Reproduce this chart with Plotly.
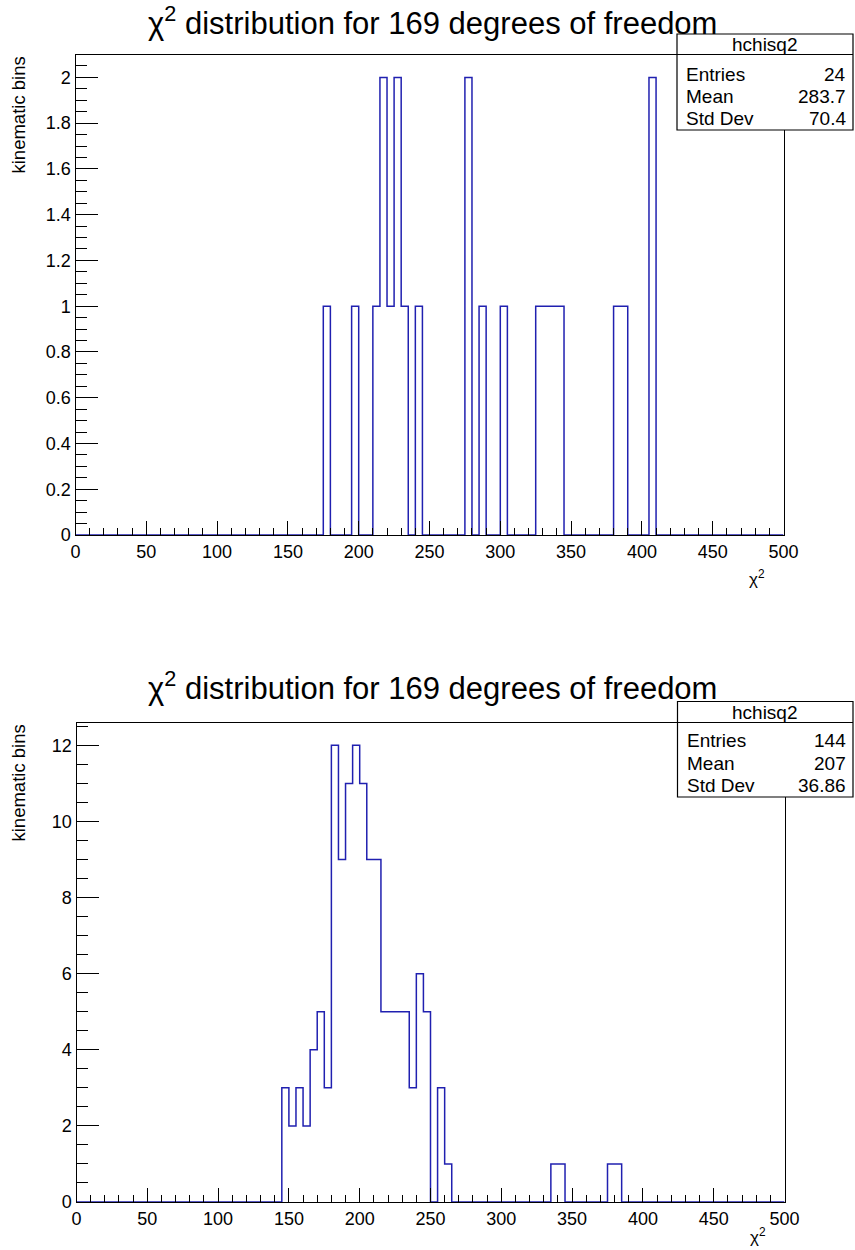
import plotly.graph_objects as go

# Histogram binning: 100 bins of width 5 over [0, 500]
BIN_WIDTH = 5
X_MIN, X_MAX = 0, 500

# Upper histogram: non-empty bins (low edge) and their contents
top_bin_lo = [175, 195, 210, 215, 220, 225, 230, 240, 275, 285, 300,
              325, 330, 335, 340, 380, 385, 405]
top_counts = [1, 1, 1, 2, 1, 2, 1, 1, 2, 1, 1,
              1, 1, 1, 1, 1, 1, 2]
top_stats = [("Entries", "24"), ("Mean", "283.7"), ("Std Dev", "70.4")]

# Lower histogram: non-empty bins (low edge) and their contents
bot_bin_lo = [145, 150, 155, 160, 165, 170, 175, 180, 185, 190, 195,
              200, 205, 210, 215, 220, 225, 230, 235, 240, 245, 255,
              260, 335, 340, 375, 380]
bot_counts = [3, 2, 3, 2, 4, 5, 3, 12, 9, 11, 12,
              11, 9, 9, 5, 5, 5, 5, 3, 6, 5, 3,
              1, 1, 1, 1, 1]
bot_stats = [("Entries", "144"), ("Mean", "207"), ("Std Dev", "36.86")]

title_text = "χ<sup>2</sup> distribution for 169 degrees of freedom"
x_title = "χ<sup>2</sup>"
y_title = "kinematic bins"
hist_name = "hchisq2"

W, H = 855, 1250
FONT = "Liberation Sans, Arial, Helvetica, sans-serif"
LINE_COLOR = "#2020b0"


def px(x):
    return x / W


def py(y):
    return 1 - y / H


def step_xy(bin_lo, counts):
    """Full bin contents over the axis range, as an hv step outline."""
    nbins = (X_MAX - X_MIN) // BIN_WIDTH
    content = [0] * nbins
    for lo, c in zip(bin_lo, counts):
        content[(lo - X_MIN) // BIN_WIDTH] = c
    edges = [X_MIN + i * BIN_WIDTH for i in range(nbins + 1)]
    return edges, content + [content[-1]]


fig = go.Figure()

panels = [
    # bins, counts, stats, axis suffix, frame px (l, t, r, b), y max, y dtick, y minor dtick,
    # stats box px (l, t, r, b), header line y, row y's, title y, x-title bottom y
    (top_bin_lo, top_counts, top_stats, "", (75.5, 54.5, 783.5, 535), 2.1, 0.2, 0.05,
     (677, 34, 853, 130), 54.5, (74, 96.5, 119), 21, 591),
    (bot_bin_lo, bot_counts, bot_stats, "2", (76.5, 722.5, 784.5, 1202), 12.6, 2, 0.5,
     (677.5, 701.5, 853, 797), 722.5, (740.5, 763, 785.5), 686, 1249),
]

shapes = []
annotations = []

for (lo, cnt, stats, sfx, frame, ymax, ydt, ymin_dt, box, hdr_y, row_y,
     title_y, xtitle_y) in panels:
    xs, ys = step_xy(lo, cnt)
    fig.add_trace(go.Scatter(
        x=xs, y=ys, mode="lines", line=dict(color=LINE_COLOR, width=1.5, shape="hv"),
        xaxis="x" + sfx, yaxis="y" + sfx, showlegend=False, hoverinfo="skip",
    ))
    l, t, r, b = frame
    axis_common = dict(
        showline=True, linecolor="black", linewidth=1.2, mirror=True,
        ticks="inside", tickcolor="black", tickwidth=1.2, automargin=False,
        showgrid=False, zeroline=False, layer="above traces",
        tickfont=dict(family=FONT, size=18, color="black"),
    )
    fig.update_layout(**{
        "xaxis" + sfx: dict(
            axis_common, domain=[px(l), px(r)], range=[X_MIN, X_MAX],
            anchor="y" + sfx, tick0=0, dtick=50, ticklen=14,
            minor=dict(dtick=10, ticklen=7, ticks="inside", tickcolor="black",
                       tickwidth=1.2, showgrid=False),
        ),
        "yaxis" + sfx: dict(
            axis_common, domain=[py(b), py(t)], range=[0, ymax],
            anchor="x" + sfx, tick0=0, dtick=ydt, ticklen=22,
            minor=dict(dtick=ymin_dt, ticklen=11, ticks="inside", tickcolor="black",
                       tickwidth=1.2, showgrid=False),
        ),
    })

    # Title
    annotations.append(dict(
        text=title_text, x=px(432.5), y=py(title_y), xref="paper", yref="paper",
        xanchor="center", yanchor="middle", showarrow=False,
        font=dict(family=FONT, size=31, color="black"),
    ))
    # Axis titles
    annotations.append(dict(
        text=x_title, x=px(r - 17), y=py(xtitle_y), xref="paper", yref="paper",
        xanchor="right", yanchor="bottom", showarrow=False,
        font=dict(family=FONT, size=17, color="black"),
    ))
    annotations.append(dict(
        text=y_title, x=px(18), y=py(t + 61), xref="paper", yref="paper",
        xanchor="center", yanchor="middle", textangle=-90, showarrow=False,
        font=dict(family=FONT, size=18.5, color="black"),
    ))

    # Statistics box
    bl, bt, br, bb = box
    shapes.append(dict(type="rect", xref="paper", yref="paper",
                       x0=px(bl), x1=px(br), y0=py(bb), y1=py(bt),
                       line=dict(color="black", width=1.2), fillcolor="white",
                       layer="above"))
    shapes.append(dict(type="line", xref="paper", yref="paper",
                       x0=px(bl), x1=px(br), y0=py(hdr_y), y1=py(hdr_y),
                       line=dict(color="black", width=1.2), layer="above"))
    annotations.append(dict(
        text=hist_name, x=px((bl + br) / 2), y=py((bt + hdr_y) / 2),
        xref="paper", yref="paper", xanchor="center", yanchor="middle",
        showarrow=False, font=dict(family=FONT, size=19, color="black"),
    ))
    for (label, value), yy in zip(stats, row_y):
        annotations.append(dict(
            text=label, x=px(bl + 7), y=py(yy), xref="paper", yref="paper",
            xanchor="left", yanchor="middle", showarrow=False,
            font=dict(family=FONT, size=19, color="black"),
        ))
        annotations.append(dict(
            text=value, x=px(br - 5), y=py(yy), xref="paper", yref="paper",
            xanchor="right", yanchor="middle", showarrow=False,
            font=dict(family=FONT, size=19, color="black"),
        ))

fig.update_layout(
    width=W, height=H, margin=dict(l=0, r=0, t=0, b=0),
    paper_bgcolor="white", plot_bgcolor="white",
    shapes=shapes, annotations=annotations,
)

fig.write_html("out.html")
